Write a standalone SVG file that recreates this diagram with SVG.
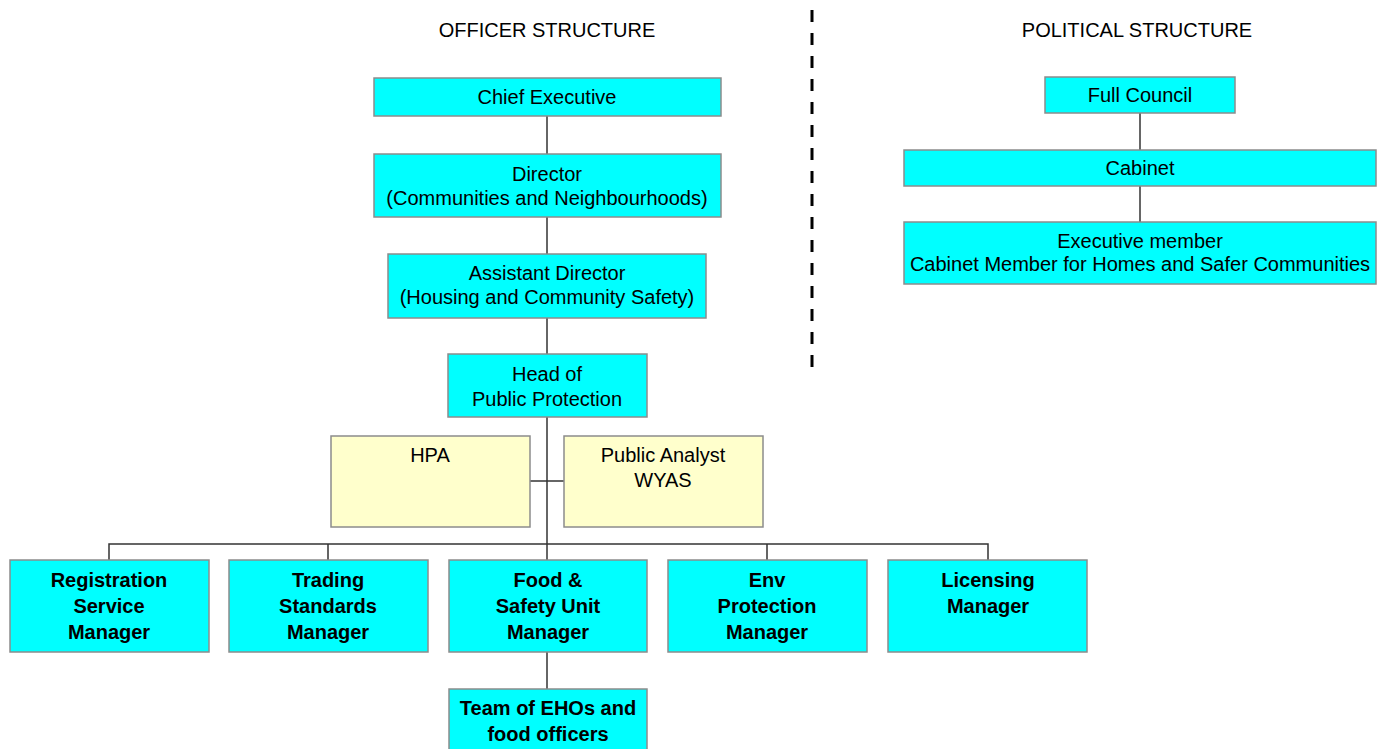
<svg xmlns="http://www.w3.org/2000/svg" width="1381" height="749" viewBox="0 0 1381 749">
<style>
.c{fill:#00FFFF;stroke:#8c8c8c;stroke-width:1.5}
.y{fill:#FFFFCC;stroke:#8c8c8c;stroke-width:1.5}
text{font-family:"Liberation Sans",Arial,sans-serif;font-size:20px;fill:#000;text-anchor:middle}
.b{font-weight:bold}
.t{font-size:20px}
#connectors line,#connectors path{stroke:#333;stroke-width:1.5;fill:none}
</style>
<rect width="1381" height="749" fill="#fff"/>
<text class="t" x="547" y="37">OFFICER STRUCTURE</text>
<text class="t" x="1137" y="37">POLITICAL STRUCTURE</text>
<line x1="812" y1="10" x2="812" y2="376" stroke="#000" stroke-width="3" stroke-dasharray="12 11"/>
<g id="connectors">
<line x1="547" y1="116" x2="547" y2="154"/>
<line x1="547" y1="217" x2="547" y2="254"/>
<line x1="547" y1="318" x2="547" y2="354"/>
<line x1="547" y1="417" x2="547" y2="560"/>
<line x1="530" y1="481" x2="564" y2="481"/>
<path d="M109 560V544H988V560M328 544V560M767 544V560"/>
<line x1="547" y1="652" x2="547" y2="689"/>
<line x1="1140" y1="113" x2="1140" y2="150"/>
<line x1="1140" y1="186" x2="1140" y2="222"/>
</g>
<g id="chief"><rect class="c" x="374" y="78" width="347" height="38"/><text x="547" y="104">Chief Executive</text></g>
<g id="director"><rect class="c" x="374" y="154" width="347" height="63"/><text x="547" y="181">Director</text><text x="547" y="205">(Communities and Neighbourhoods)</text></g>
<g id="assistant"><rect class="c" x="388" y="254" width="318" height="64"/><text x="547" y="280">Assistant Director</text><text x="547" y="304">(Housing and Community Safety)</text></g>
<g id="head"><rect class="c" x="448" y="354" width="199" height="63"/><text x="547" y="381">Head of</text><text x="547" y="406">Public Protection</text></g>
<g id="hpa"><rect class="y" x="331" y="436" width="199" height="91"/><text x="430" y="462">HPA</text></g>
<g id="analyst"><rect class="y" x="564" y="436" width="199" height="91"/><text x="663" y="462">Public Analyst</text><text x="663" y="487">WYAS</text></g>
<g id="registration"><rect class="c" x="10" y="560" width="199" height="92"/><text class="b" x="109" y="587">Registration</text><text class="b" x="109" y="613">Service</text><text class="b" x="109" y="639">Manager</text></g>
<g id="trading"><rect class="c" x="229" y="560" width="199" height="92"/><text class="b" x="328" y="587">Trading</text><text class="b" x="328" y="613">Standards</text><text class="b" x="328" y="639">Manager</text></g>
<g id="food"><rect class="c" x="449" y="560" width="198" height="92"/><text class="b" x="548" y="587">Food &amp;</text><text class="b" x="548" y="613">Safety Unit</text><text class="b" x="548" y="639">Manager</text></g>
<g id="env"><rect class="c" x="668" y="560" width="199" height="92"/><text class="b" x="767" y="587">Env</text><text class="b" x="767" y="613">Protection</text><text class="b" x="767" y="639">Manager</text></g>
<g id="licensing"><rect class="c" x="888" y="560" width="199" height="92"/><text class="b" x="988" y="587">Licensing</text><text class="b" x="988" y="613">Manager</text></g>
<g id="team"><rect class="c" x="449" y="689" width="198" height="64"/><text class="b" x="548" y="715">Team of EHOs and</text><text class="b" x="548" y="741">food officers</text></g>
<g id="council"><rect class="c" x="1045" y="77" width="190" height="36"/><text x="1140" y="102">Full Council</text></g>
<g id="cabinet"><rect class="c" x="904" y="150" width="472" height="36"/><text x="1140" y="175">Cabinet</text></g>
<g id="executive"><rect class="c" x="904" y="222" width="472" height="62"/><text x="1140" y="248">Executive member</text><text x="1140" y="271">Cabinet Member for Homes and Safer Communities</text></g>
</svg>
